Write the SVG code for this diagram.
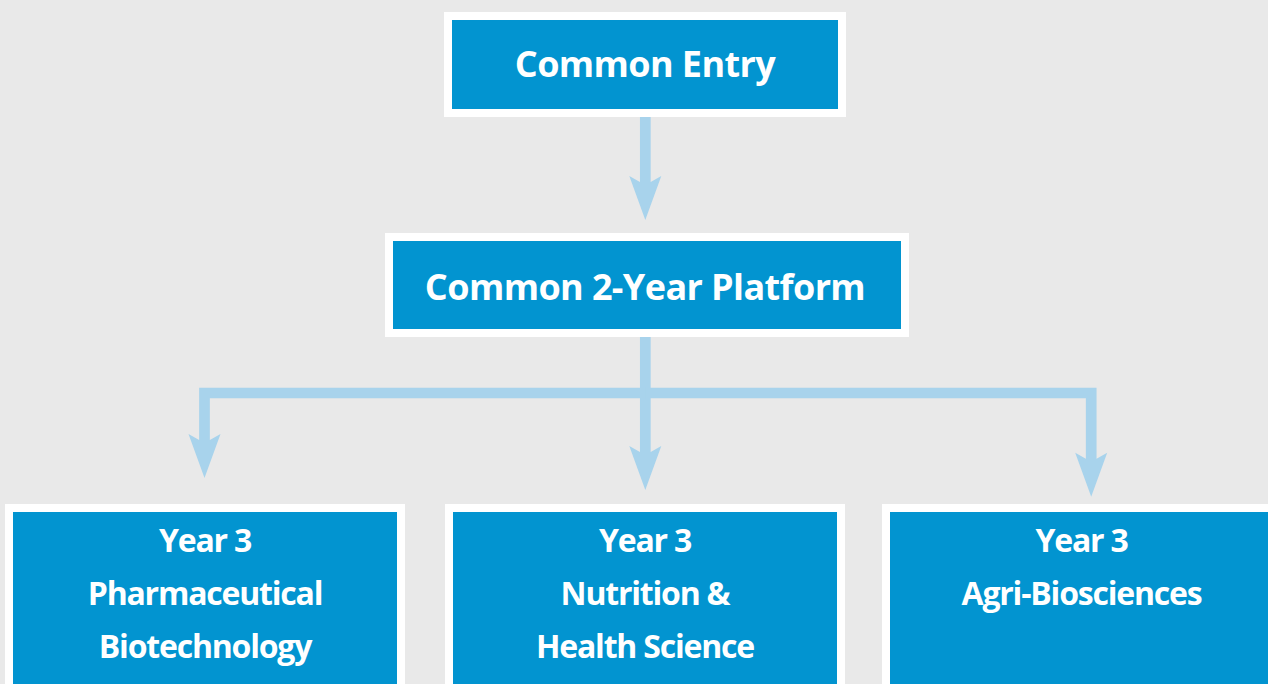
<svg xmlns="http://www.w3.org/2000/svg" width="1268" height="684" viewBox="0 0 1268 684">
  <defs>
    <style>
      .outer { fill: #ffffff; }
      .inner { fill: #0294d0; }
      .lbl { font-family: "Open Sans", "Liberation Sans", sans-serif; font-weight: bold; fill: #ffffff; text-anchor: middle; }
      .big { font-size: 36px; letter-spacing: -0.6px; }
      .small { font-size: 32px; letter-spacing: -1.2px; }
      .conn { fill: none; stroke: #a8d3ec; stroke-width: 10.7; stroke-linejoin: miter; stroke-linecap: butt; }
    </style>
    <marker id="head" markerUnits="userSpaceOnUse" markerWidth="50" markerHeight="40" viewBox="0 -20 50 40" refX="8" refY="0" orient="auto" overflow="visible">
      <path d="M0,-16 L44,0 L0,16 L6,5.35 L6,-5.35 Z" fill="#a8d3ec"/>
    </marker>
  </defs>
  <rect x="0" y="0" width="1268" height="684" fill="#e9e9e9"/>

  <g id="connectors">
    <path class="conn" d="M645.3,116 V184" marker-end="url(#head)"/>
    <path class="conn" d="M645.3,337 V454" marker-end="url(#head)"/>
    <path class="conn" d="M645.3,393 H204.5 V442" marker-end="url(#head)"/>
    <path class="conn" d="M645.3,393 H1091.2 V460.7" marker-end="url(#head)"/>
  </g>

  <g id="common-entry">
    <rect class="outer" x="444" y="12" width="402" height="105"/>
    <rect class="inner" x="452" y="20" width="386" height="89"/>
    <text class="lbl big" x="645" y="77">Common Entry</text>
  </g>

  <g id="platform">
    <rect class="outer" x="385" y="233" width="524" height="104"/>
    <rect class="inner" x="393" y="241" width="508" height="88"/>
    <text class="lbl big" x="645" y="300">Common 2-Year Platform</text>
  </g>

  <g id="pharma">
    <rect class="outer" x="5" y="504" width="400" height="200"/>
    <rect class="inner" x="13" y="512" width="384" height="190"/>
    <text class="lbl small" x="205" y="552">Year 3</text>
    <text class="lbl small" x="205" y="605">Pharmaceutical</text>
    <text class="lbl small" x="205" y="658">Biotechnology</text>
  </g>

  <g id="nutrition">
    <rect class="outer" x="445" y="504" width="400" height="200"/>
    <rect class="inner" x="453" y="512" width="384" height="190"/>
    <text class="lbl small" x="645" y="552">Year 3</text>
    <text class="lbl small" x="645" y="605">Nutrition &amp;</text>
    <text class="lbl small" x="645" y="658">Health Science</text>
  </g>

  <g id="agri">
    <rect class="outer" x="882" y="504" width="400" height="200"/>
    <rect class="inner" x="890" y="512" width="384" height="190"/>
    <text class="lbl small" x="1081.5" y="552">Year 3</text>
    <text class="lbl small" x="1081.5" y="605">Agri-Biosciences</text>
  </g>
</svg>
